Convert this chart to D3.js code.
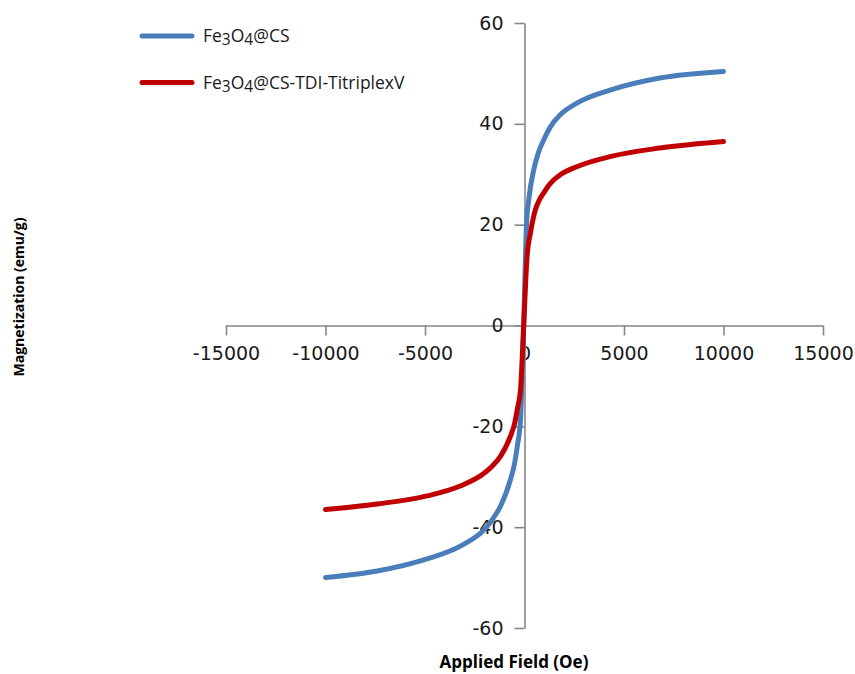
<!DOCTYPE html>
<html>
<head>
<meta charset="utf-8">
<script src="https://cdnjs.cloudflare.com/ajax/libs/d3/7.8.5/d3.min.js"></script>
<style>
body { margin: 0; background: white; }
</style>
</head>
<body>
<script>
let width = 855
let height = 674

// field (Oe) and magnetization (emu/g)
let cs_field = [-10000, -7400, -4900, -3200, -2000, -1600, -1200, -700, -500, -360, -200, -40, 100, 215, 465, 700, 965, 1300, 1800, 2630, 4300, 6800, 10000]
let cs_mag = [-50, -48.7, -46.3, -43.7, -40.4, -38.4, -35.8, -30.5, -27.4, -23.9, -18.6, 0, 20, 25, 30.9, 34.3, 36.8, 39.4, 41.8, 44.1, 46.7, 49.1, 50.4]
let tdi_field = [-10000, -7400, -4900, -3200, -2000, -1600, -1200, -700, -500, -360, -200, -40, 130, 300, 550, 750, 965, 1300, 1800, 2630, 4300, 6800, 10000]
let tdi_mag = [-36.5, -35.4, -33.8, -31.8, -29.2, -27.8, -25.9, -21.9, -19.5, -16.6, -12.7, 0, 13.7, 18.4, 23, 24.9, 26.3, 28.2, 29.9, 31.5, 33.5, 35.2, 36.5]

let x_ticks = [-15000, -10000, -5000, 0, 5000, 10000, 15000]
let y_ticks = [-60, -40, -20, 0, 20, 40, 60]

let series = [
    {name: ['Fe', '3', 'O', '4', '@CS'], field: cs_field, mag: cs_mag, color: '#4a7ebb'},
    {name: ['Fe', '3', 'O', '4', '@CS-TDI-TitriplexV'], field: tdi_field, mag: tdi_mag, color: '#c00000'}
]

let axis_color = '#868686'
let text_color = '#1a1a1a'
let tick_font = '"DejaVu Sans", Verdana, sans-serif'
let title_font = '"Open Sans", sans-serif'

let x = d3.scaleLinear().domain([-15000, 15000]).range([226, 823])
let y = d3.scaleLinear().domain([-60, 60]).range([628, 23])

let svg = d3.select('body')
    .append('svg')
    .attr('width', width)
    .attr('height', height)

// x axis through y = 0, ticks hanging below
let x_axis = svg.append('g')
    .attr('transform', `translate(0,${y(0)})`)
    .call(d3.axisBottom(x).tickValues(x_ticks).tickSize(10).tickSizeOuter(0).tickFormat(d => String(d)))
x_axis.select('.domain').attr('stroke', axis_color).attr('stroke-width', 1.6)
x_axis.selectAll('.tick line').attr('stroke', axis_color).attr('stroke-width', 1.6)
x_axis.selectAll('.tick text')
    .attr('y', 34)
    .attr('dy', 0)
    .attr('fill', text_color)
    .style('font-family', tick_font)
    .style('font-size', '19px')

// y axis through x = 0, ticks to the left
let y_axis = svg.append('g')
    .attr('transform', `translate(${x(0)},0)`)
    .call(d3.axisLeft(y).tickValues(y_ticks).tickSize(10).tickSizeOuter(0).tickFormat(d => String(d)))
y_axis.select('.domain').attr('stroke', axis_color).attr('stroke-width', 1.6)
y_axis.selectAll('.tick line').attr('stroke', axis_color).attr('stroke-width', 1.6)
y_axis.selectAll('.tick text')
    .attr('x', -21)
    .attr('fill', text_color)
    .style('font-family', tick_font)
    .style('font-size', '19px')

let line = d3.line()
    .x(d => x(d[0]))
    .y(d => y(d[1]))
    .curve(d3.curveMonotoneX)

svg.selectAll('path.curve')
    .data(series)
    .enter()
    .append('path')
    .attr('class', 'curve')
    .attr('d', d => line(d.field.map((f, i) => [f, d.mag[i]])))
    .attr('fill', 'none')
    .attr('stroke', d => d.color)
    .attr('stroke-width', 5)
    .attr('stroke-linecap', 'round')

// legend
let legend = svg.selectAll('g.legend')
    .data(series)
    .enter()
    .append('g')
    .attr('class', 'legend')
    .attr('transform', (d, i) => `translate(142,${36 + i * 46.5})`)
legend.append('line')
    .attr('x1', 0)
    .attr('x2', 50)
    .attr('stroke', d => d.color)
    .attr('stroke-width', 5)
    .attr('stroke-linecap', 'round')
let label = legend.append('text')
    .attr('x', 61)
    .attr('y', 6)
    .attr('fill', text_color)
    .style('font-family', title_font)
    .style('font-size', '17.5px')
label.selectAll('tspan')
    .data(d => d.name)
    .enter()
    .append('tspan')
    .text(t => t)
    .attr('dy', (t, i) => i == 0 ? 0 : (i % 2 ? 3 : -3))
    .style('font-size', (t, i) => i % 2 ? '15.5px' : '17.5px')

// axis titles
svg.append('text')
    .attr('x', 514)
    .attr('y', 668)
    .attr('text-anchor', 'middle')
    .attr('fill', 'black')
    .style('font-family', title_font)
    .style('font-weight', 'bold')
    .style('font-size', '17px')
    .text('Applied Field (Oe)')

svg.append('text')
    .attr('transform', 'translate(24,297) rotate(-90)')
    .attr('text-anchor', 'middle')
    .attr('fill', 'black')
    .style('font-family', title_font)
    .style('font-weight', 'bold')
    .style('font-size', '14px')
    .text('Magnetization (emu/g)')
</script>
</body>
</html>
